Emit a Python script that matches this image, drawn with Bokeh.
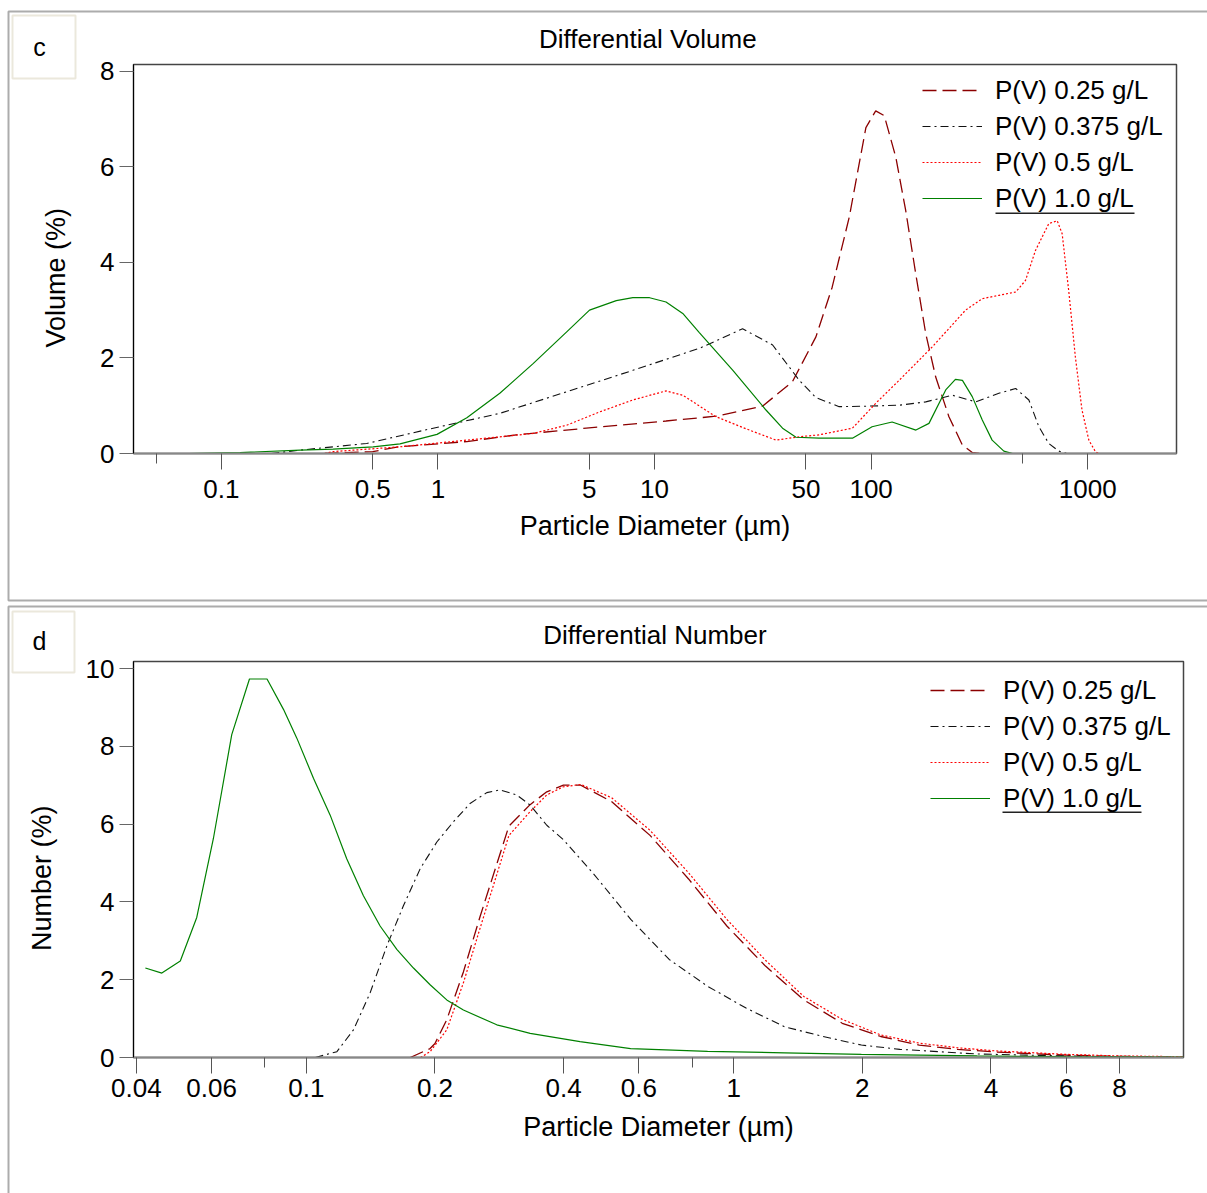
from bokeh.plotting import figure
from bokeh.models import FixedTicker, Range1d, Legend, LegendItem, BoxAnnotation
from bokeh.core.properties import value
from bokeh.embed import file_html
from bokeh.resources import INLINE

FONT = "Liberation Sans"

# ---------------- data: panel c (Differential Volume) ----------------
v25_x = [0.30, 0.50, 0.66, 1.36, 2.3, 4.84, 11.3, 19.2, 31.5, 43.3, 55.6, 66.1, 79.2, 94.6, 105, 115, 130, 144.5, 160.7, 178.7, 198.7, 228.7, 263.6, 293, 320]
v25_y = [0.0, 0.04, 0.14, 0.25, 0.39, 0.53, 0.68, 0.78, 0.99, 1.5, 2.44, 3.48, 4.94, 6.82, 7.17, 7.07, 6.2, 5.08, 3.76, 2.51, 1.6, 0.77, 0.18, 0.02, 0.0]

v375_x = [0.17, 0.231, 0.469, 0.951, 1.93, 3.92, 7.94, 16.1, 25.5, 35.1, 46.6, 55.6, 71.2, 94.6, 134.6, 178.7, 237, 304, 389, 465, 535, 595, 661, 735, 800]
v375_y = [0.0, 0.07, 0.21, 0.53, 0.84, 1.29, 1.74, 2.2, 2.61, 2.27, 1.53, 1.17, 0.98, 0.99, 1.01, 1.08, 1.22, 1.08, 1.26, 1.36, 1.12, 0.56, 0.21, 0.05, 0.0]

v5_x = [0.30, 0.329, 0.668, 1.36, 2.75, 3.92, 5.58, 7.94, 11.3, 13.5, 19.2, 27.4, 36.4, 46.6, 57.5, 82, 105, 134.6, 191.5, 273, 326, 389, 465, 516, 574, 661, 723, 762, 817, 877, 941, 1012, 1085, 1120]
v5_y = [0.0, 0.04, 0.14, 0.28, 0.42, 0.59, 0.87, 1.12, 1.31, 1.22, 0.77, 0.49, 0.28, 0.35, 0.39, 0.53, 1.05, 1.53, 2.23, 3.0, 3.24, 3.31, 3.38, 3.62, 4.25, 4.81, 4.87, 4.6, 3.41, 2.02, 0.91, 0.28, 0.04, 0.0]

v10_x = [0.0705, 0.122, 0.231, 0.328, 0.502, 0.668, 0.99, 1.36, 1.93, 2.75, 3.92, 5.01, 6.66, 7.94, 9.49, 11.3, 13.5, 16.1, 23.0, 32.7, 39.0, 45.0, 57.5, 82, 101, 125, 161, 185, 221, 245, 264, 293, 326, 362, 410, 450]
v10_y = [0.0, 0.02, 0.07, 0.09, 0.14, 0.2, 0.4, 0.75, 1.26, 1.88, 2.54, 3.0, 3.2, 3.26, 3.26, 3.17, 2.93, 2.53, 1.74, 0.91, 0.53, 0.34, 0.32, 0.32, 0.56, 0.66, 0.49, 0.63, 1.33, 1.55, 1.53, 1.19, 0.7, 0.28, 0.05, 0.0]

# ---------------- data: panel d (Differential Number) ----------------
n25_x = [0.175, 0.1948, 0.2, 0.2131, 0.2331, 0.2546, 0.2786, 0.2979, 0.3339, 0.3653, 0.3995, 0.4388, 0.5178, 0.6372, 0.7842, 0.9641, 1.187, 1.459, 1.795, 2.209, 2.718, 3.343, 4.11, 6.0, 8.0, 11.3]
n25_y = [0.0, 0.23, 0.36, 0.97, 2.2, 3.6, 4.95, 5.95, 6.5, 6.83, 7.0, 7.0, 6.58, 5.71, 4.59, 3.38, 2.35, 1.48, 0.88, 0.54, 0.32, 0.21, 0.14, 0.06, 0.03, 0.01]

n375_x = [0.105, 0.1179, 0.1289, 0.1410, 0.1543, 0.1687, 0.1846, 0.2020, 0.2209, 0.2416, 0.2644, 0.2840, 0.3107, 0.3339, 0.3653, 0.3995, 0.4670, 0.5744, 0.7065, 0.8694, 1.069, 1.316, 1.619, 1.99, 2.449, 3.013, 3.71, 6.0, 8.0, 11.3]
n375_y = [0.0, 0.15, 0.71, 1.66, 2.87, 3.9, 4.85, 5.54, 6.06, 6.53, 6.81, 6.88, 6.75, 6.49, 5.97, 5.6, 4.76, 3.55, 2.52, 1.83, 1.27, 0.79, 0.54, 0.32, 0.21, 0.15, 0.09, 0.04, 0.02, 0.01]

n5_x = [0.185, 0.1948, 0.2131, 0.2331, 0.2546, 0.2786, 0.2979, 0.3339, 0.3653, 0.3995, 0.4388, 0.5178, 0.6372, 0.7842, 0.9641, 1.187, 1.459, 1.795, 2.209, 2.718, 3.343, 4.11, 6.0, 8.0, 11.3]
n5_y = [0.0, 0.15, 0.71, 1.92, 3.3, 4.68, 5.71, 6.32, 6.75, 6.96, 7.02, 6.68, 5.84, 4.75, 3.55, 2.5, 1.57, 0.98, 0.58, 0.37, 0.25, 0.17, 0.08, 0.04, 0.02]

n10_x = [0.0420, 0.0459, 0.0507, 0.0554, 0.0606, 0.0669, 0.0736, 0.0809, 0.0884, 0.0950, 0.1039, 0.1137, 0.1243, 0.1360, 0.1488, 0.1628, 0.1781, 0.1948, 0.2131, 0.2331, 0.279, 0.334, 0.437, 0.574, 0.869, 1.316, 1.99, 3.71, 6.0, 11.3]
n10_y = [2.30, 2.17, 2.48, 3.6, 5.63, 8.3, 9.73, 9.73, 8.95, 8.21, 7.18, 6.23, 5.11, 4.16, 3.38, 2.78, 2.3, 1.87, 1.48, 1.22, 0.84, 0.62, 0.41, 0.23, 0.16, 0.12, 0.08, 0.04, 0.02, 0.01]

series_names = ["P(V) 0.25 g/L", "P(V) 0.375 g/L", "P(V) 0.5 g/L", "P(V) 1.0 g/L"]

top_ticks = [0.1, 0.5, 1, 5, 10, 50, 100, 1000]
top_tick_labels = ["0.1", "0.5", "1", "5", "10", "50", "100", "1000"]
top_minor = [0.05, 500]
bot_ticks = [0.04, 0.06, 0.1, 0.2, 0.4, 0.6, 1, 2, 4, 6, 8]
bot_tick_labels = ["0.04", "0.06", "0.1", "0.2", "0.4", "0.6", "1", "2", "4", "6", "8"]
bot_minor = [0.08, 0.8]

STYLES = [
    dict(line_color="#8b0000", line_dash="14 6", line_width=1.3),
    dict(line_color="#111111", line_dash="8 4 2 4", line_width=1.1),
    dict(line_color="#ff0000", line_dash="2 2", line_width=1.2),
    dict(line_color="#008000", line_dash="solid", line_width=1.2),
]

NB = "\u00a0"


def make_panel(h, x_rng, y_rng, yticks, xt, xtl, xminor, title, ylabel,
               border, data, leg_loc, underline, title_standoff, title_pad,
               xlabel_standoff, xaxis_label_standoff):
    p = figure(width=1207, height=h, x_axis_type="log",
               x_range=Range1d(*x_rng), y_range=Range1d(*y_rng),
               output_backend="svg", toolbar_location=None,
               min_border_left=border[0], min_border_right=border[1],
               min_border_top=border[2], min_border_bottom=border[3])
    p.title.text = title + NB * title_pad
    p.title.align = "center"
    p.title.text_font = FONT
    p.title.text_font_size = "26px"
    p.title.text_font_style = "normal"
    p.title.text_color = "black"
    p.title.standoff = title_standoff
    p.grid.visible = False
    p.outline_line_color = "#444444"
    p.outline_line_width = 1.5
    p.background_fill_color = "white"
    p.border_fill_color = "white"

    xa = p.xaxis[0]
    xa.ticker = FixedTicker(ticks=xt, minor_ticks=xminor)
    xa.major_label_overrides = {t: s for t, s in zip(xt, xtl)}
    xa.axis_label = "Particle Diameter (\u00b5m)"
    ya = p.yaxis[0]
    ya.ticker = FixedTicker(ticks=yticks, minor_ticks=[])
    ya.axis_label = ylabel + NB * 5
    for ax in (xa, ya):
        ax.axis_label_text_font = FONT
        ax.axis_label_text_font_size = "27px"
        ax.axis_label_text_font_style = "normal"
        ax.axis_label_text_color = "black"
        ax.major_label_text_font = FONT
        ax.major_label_text_font_size = "26px"
        ax.major_label_text_color = "black"
        ax.major_tick_in = 0
        ax.minor_tick_in = 0
    xa.axis_line_color = "#888888"
    xa.axis_line_width = 2
    xa.major_tick_out = 16
    xa.minor_tick_out = 10
    xa.major_tick_line_color = "#555555"
    xa.minor_tick_line_color = "#555555"
    xa.major_label_standoff = xlabel_standoff
    xa.axis_label_standoff = xaxis_label_standoff
    ya.axis_line_color = "black"
    ya.major_tick_out = 14
    ya.major_tick_line_color = "#666666"
    ya.major_label_standoff = 5
    ya.axis_label_standoff = 26

    items = []
    for name, (xs, ys), st in zip(series_names, data, STYLES):
        r = p.line(xs, ys, **st)
        items.append(LegendItem(label=name, renderers=[r]))
    leg = Legend(items=items, location=leg_loc, glyph_width=60, glyph_height=36,
                 label_height=36, label_standoff=13, spacing=0, padding=0, margin=0,
                 border_line_color=None, background_fill_alpha=0,
                 label_text_font=FONT, label_text_font_size="26px",
                 label_text_color="black")
    p.add_layout(leg, "center")

    ul = BoxAnnotation(left=underline[0], right=underline[1], top=underline[2],
                       bottom=underline[2] + 1.6, left_units="canvas", right_units="canvas",
                       top_units="canvas", bottom_units="canvas",
                       fill_color="#222222", fill_alpha=1, line_alpha=0)
    p.add_layout(ul)
    return p


def make_overlay(h, top, pbox, lbox, letter, letter_pos):
    # transparent pixel-space layer carrying the panel frame and the letter box
    o = figure(width=1207, height=h, x_range=Range1d(0, 1207), y_range=Range1d(h, 0),
               output_backend="svg", toolbar_location=None, min_border=0,
               x_axis_location=None, y_axis_location=None)
    o.grid.visible = False
    o.outline_line_color = None
    o.background_fill_alpha = 0
    o.border_fill_alpha = 0
    o.styles = {"position": "absolute", "left": "0px", "top": f"{top}px"}
    o.add_layout(BoxAnnotation(left=pbox[0], right=pbox[1], top=pbox[2], bottom=pbox[3],
                               fill_alpha=0, line_color="#acacac", line_alpha=1, line_width=2))
    o.add_layout(BoxAnnotation(left=lbox[0], right=lbox[1], top=lbox[2], bottom=lbox[3],
                               fill_alpha=0, line_color="#ebe8dc", line_alpha=1, line_width=2))
    o.text(x=[letter_pos[0]], y=[letter_pos[1]], text=[letter], text_font=value(FONT),
           text_font_size="25px", text_align="center", text_baseline="middle", text_color="black")
    return o


p1 = make_panel(603, (0.0393, 2570), (0, 8.14), [0, 2, 4, 6, 8], top_ticks, top_tick_labels,
                top_minor, "Differential Volume", "Volume (%)", (133, 31, 64, 150),
                [(v25_x, v25_y), (v375_x, v375_y), (v5_x, v5_y), (v10_x, v10_y)],
                (789, 237), (995, 1134, 212), 22, 2, 10, 10)

p2 = make_panel(590, (0.0394, 11.29), (0, 10.18), [0, 2, 4, 6, 8, 10], bot_ticks, bot_tick_labels,
                bot_minor, "Differential Number", "Number (%)", (133, 24, 58, 136),
                [(n25_x, n25_y), (n375_x, n375_y), (n5_x, n5_y), (n10_x, n10_y)],
                (797, 241), (1002, 1141, 208), 23, 1, 5, 12)

o1 = make_overlay(603, 0, (8, 1300, 11, 600), (12, 75, 15, 78), "c", (39, 46))
o2 = make_overlay(590, 603, (8, 1300, 3, 700), (12, 74, 8, 69), "d", (39, 37))

open("out.html", "w").write(file_html([p1, p2, o1, o2], INLINE))
